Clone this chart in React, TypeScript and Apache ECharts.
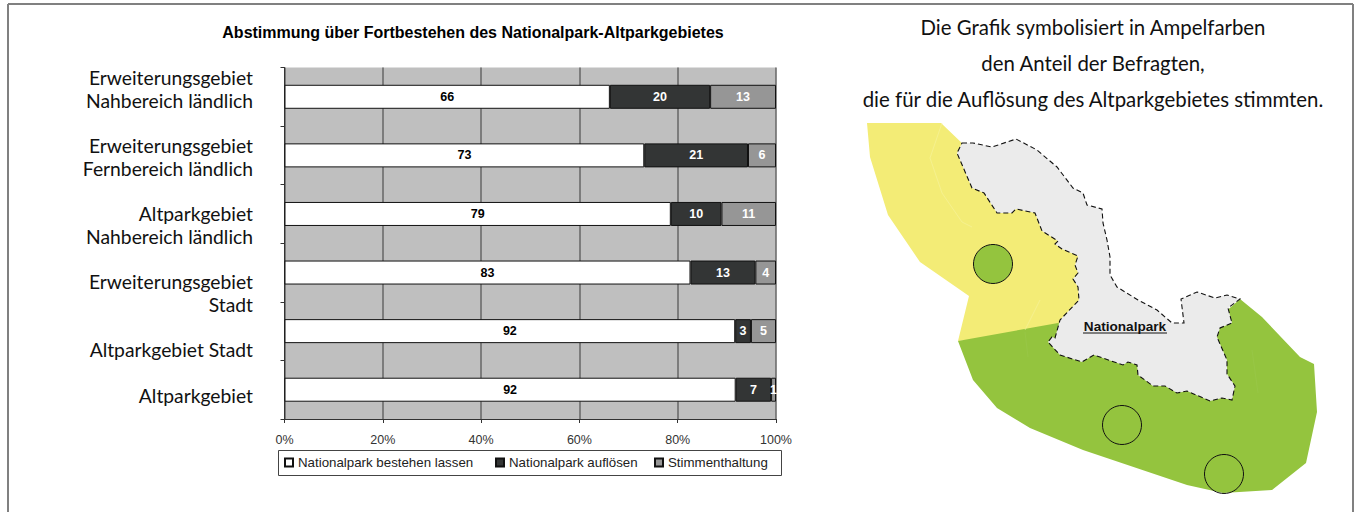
import React, { useEffect, useRef } from "react";
import * as echarts from "echarts";

const categories = [
  "Erweiterungsgebiet\nNahbereich ländlich",
  "Erweiterungsgebiet\nFernbereich ländlich",
  "Altparkgebiet\nNahbereich ländlich",
  "Erweiterungsgebiet\nStadt",
  "Altparkgebiet Stadt",
  "Altparkgebiet",
];
const labelCentres = [89, 157, 225, 293, 349, 395];
const seriesNames = ["Nationalpark bestehen lassen", "Nationalpark auflösen", "Stimmenthaltung"];
const bestehen = [66.2, 73.2, 78.6, 82.6, 91.7, 91.8];
const aufloesen = [20.4, 21.1, 10.3, 13.2, 3.2, 7.2];
const enthaltung = [13.4, 5.7, 11.1, 4.2, 5.1, 1.0];
const xTicks = [0, 20, 40, 60, 80, 100];
const title = "Abstimmung über Fortbestehen des Nationalpark-Altparkgebietes";
const noteLines = [
  "Die Grafik symbolisiert in Ampelfarben",
  "den Anteil der Befragten,",
  "die für die Auflösung des Altparkgebietes stimmten.",
];

const yellowArea = [[867,123],[941,123],[965,146],[1000,160],[1085,220],[1090,330],[958,341],[969,296],[920,262],[888,215],[870,157]];
const greenArea = [[958,341],[1058,323],[1100,340],[1200,380],[1205,330],[1240,299],[1262,317],[1300,357],[1314,364],[1317,412],[1306,463],[1272,490],[1223,493],[1187,485],[1083,450],[1030,428],[997,408],[973,380]];
const parkArea = [
  [962,143],[973,143],[992,147],[1016,139],[1037,150],[1057,167],[1073,188],[1083,193],[1087,205],[1102,209],
  [1103,223],[1107,240],[1110,257],[1110,275],[1117,287],[1138,300],[1157,310],[1172,323],[1184,323],[1181,299],
  [1197,292],[1215,298],[1227,295],[1240,299],[1228,308],[1232,323],[1220,328],[1217,337],[1227,360],[1227,374],
  [1235,386],[1232,400],[1222,398],[1210,401],[1187,391],[1177,393],[1165,386],[1153,386],[1138,375],[1137,365],
  [1128,362],[1123,365],[1094,355],[1082,362],[1060,355],[1048,342],[1052,337],[1055,338],[1060,320],[1079,300],
  [1078,287],[1073,279],[1078,273],[1075,265],[1078,256],[1062,249],[1055,244],[1058,241],[1042,231],[1035,213],
  [1016,209],[1012,213],[997,213],[984,193],[972,188],[957,153],
];
const towns = [[993,264,"#94c43e"],[1122,425,"none"],[1224,474,"none"]];
const faintYellowLines = [
  [[942,123],[930,158],[942,193],[962,222],[972,227]],
  [[1040,300],[1025,330]],
];
const faintGreenLines = [
  [[1252,350],[1258,393]],
  [[1025,332],[1028,357]],
];

const sans = "'Liberation Sans', Arial, sans-serif";
const humanist = "Lato, 'Noto Sans', sans-serif";
const colours = ["#ffffff", "#333535", "#969696"];

export default function App() {
  const ref = useRef<HTMLDivElement>(null);
  useEffect(() => {
    const chart = echarts.init(ref.current!, null, { renderer: "svg" });
    const makeSeries = (name: string, data: number[], i: number) => ({
      name,
      type: "bar",
      stack: "total",
      data,
      barWidth: 24,
      itemStyle: { color: colours[i], borderColor: "#111", borderWidth: 1 },
      label: {
        show: true,
        position: "inside",
        formatter: (p: any) => String(Math.round(p.value)),
        fontFamily: sans,
        fontWeight: "bold",
        fontSize: 12.5,
        color: i === 0 ? "#000" : "#fff",
      },
    });
    const faint = (lines: number[][][], stroke: string) =>
      lines.map((points) => ({
        type: "polyline", silent: true, shape: { points },
        style: { fill: "none", stroke, lineWidth: 0.6 },
      }));
    chart.setOption({
      animation: false,
      backgroundColor: "#fff",
      grid: { left: 284.5, top: 67.5, width: 491.5, height: 351.5, show: true, backgroundColor: "#bfbfbf", borderWidth: 0 },
      xAxis: {
        type: "value",
        min: 0,
        max: 100,
        interval: 20,
        axisLine: { show: true, lineStyle: { color: "#333", width: 1 } },
        axisTick: { show: true, length: 4, lineStyle: { color: "#333" } },
        axisLabel: {
          formatter: (v: number) => (xTicks.includes(v) ? v + "%" : ""),
          fontFamily: sans, fontSize: 12.5, color: "#333", margin: 14,
        },
        splitLine: { show: true, lineStyle: { color: "#666", width: 1.5 } },
      },
      yAxis: {
        type: "category",
        inverse: true,
        data: categories,
        axisLine: { show: true, lineStyle: { color: "#333", width: 1 } },
        axisTick: { show: true, length: 4, lineStyle: { color: "#333" } },
        axisLabel: { show: false },
      },
      legend: seriesNames.map((n, i) => ({
        data: [n],
        left: [284, 495, 654][i],
        top: 456,
        padding: 0,
        itemWidth: 8,
        itemHeight: 8,
        icon: "rect",
        textStyle: { fontFamily: sans, fontSize: 13.3, color: "#222" },
        selectedMode: false,
      })),
      series: [
        makeSeries(seriesNames[0], bestehen, 0),
        makeSeries(seriesNames[1], aufloesen, 1),
        makeSeries(seriesNames[2], enthaltung, 2),
      ],
      graphic: [
        { type: "line", silent: true, shape: { x1: 8, y1: 4, x2: 1353, y2: 4 }, style: { stroke: "#808080", lineWidth: 2 } },
        { type: "line", silent: true, shape: { x1: 8, y1: 4, x2: 8, y2: 512 }, style: { stroke: "#808080", lineWidth: 2 } },
        { type: "line", silent: true, shape: { x1: 1353, y1: 4, x2: 1353, y2: 512 }, style: { stroke: "#808080", lineWidth: 2 } },
        { type: "rect", silent: true, shape: { x: 278.5, y: 450.5, width: 503, height: 25 }, style: { fill: "none", stroke: "#444", lineWidth: 1 } },
        { type: "text", silent: true, x: 473, y: 32, style: { text: title, align: "center", verticalAlign: "middle", fontFamily: sans, fontWeight: "bold", fontSize: 16, fill: "#000" } },
        ...categories.map((c, i) => ({
          type: "text", silent: true, x: 253, y: labelCentres[i],
          style: { text: c, align: "right", verticalAlign: "middle", fontFamily: humanist, fontSize: 19.3, lineHeight: 23, fill: "#111" },
        })),
        ...noteLines.map((t, i) => ({
          type: "text", silent: true, x: 1093, y: 27 + i * 36,
          style: { text: t, align: "center", verticalAlign: "middle", fontFamily: humanist, fontSize: 20.4, fill: "#111" },
        })),
        { type: "polygon", silent: true, shape: { points: yellowArea }, style: { fill: "#f3ec76" } },
        { type: "polygon", silent: true, shape: { points: greenArea }, style: { fill: "#94c43e" } },
        ...faint(faintYellowLines, "#f7f3a0"),
        ...faint(faintGreenLines, "#9bc74c"),
        { type: "polygon", silent: true, shape: { points: parkArea }, style: { fill: "#ebebeb", stroke: "#111", lineWidth: 1.1, lineDash: [5, 3] } },
        ...towns.map(([x, y, fill]) => ({
          type: "circle", silent: true, shape: { cx: x, cy: y, r: 19.5 },
          style: { fill, stroke: "#111", lineWidth: 1 },
        })),
        { type: "text", silent: true, x: 1125, y: 326, style: { text: "Nationalpark", align: "center", verticalAlign: "middle", fontFamily: sans, fontWeight: "bold", fontSize: 13.6, fill: "#111" } },
        { type: "line", silent: true, shape: { x1: 1083, y1: 333, x2: 1167, y2: 333 }, style: { stroke: "#111", lineWidth: 1 } },
      ],
    });
    return () => chart.dispose();
  }, []);
  return <div ref={ref} style={{ position: "fixed", left: 0, top: 0, width: 1356, height: 512 }} />;
}
